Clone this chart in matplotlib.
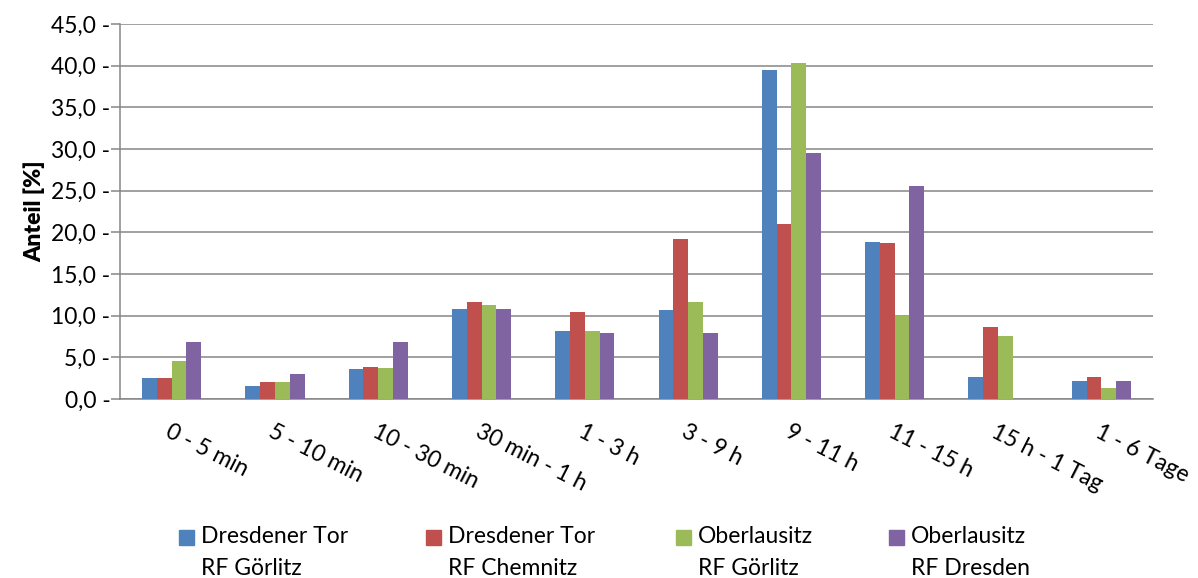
import matplotlib
matplotlib.use("Agg")
import matplotlib.pyplot as plt
from matplotlib.patches import Rectangle
import numpy as np

plt.rcParams['font.family'] = ['Lato', 'DejaVu Sans']

categories = ["0 - 5 min", "5 - 10 min", "10 - 30 min", "30 min - 1 h", "1 - 3 h",
              "3 - 9 h", "9 - 11 h", "11 - 15 h", "15 h - 1 Tag", "1 - 6 Tage"]

series_labels = ["Dresdener Tor\nRF Görlitz", "Dresdener Tor\nRF Chemnitz",
                 "Oberlausitz\nRF Görlitz", "Oberlausitz\nRF Dresden"]

dresdener_tor_goerlitz = [2.5, 1.5, 3.6, 10.8, 8.1, 10.7, 39.5, 18.8, 2.6, 2.1]
dresdener_tor_chemnitz = [2.5, 2.0, 3.8, 11.6, 10.4, 19.2, 21.0, 18.7, 8.6, 2.6]
oberlausitz_goerlitz = [4.5, 2.0, 3.7, 11.3, 8.1, 11.6, 40.3, 10.0, 7.5, 1.3]
oberlausitz_dresden = [6.8, 3.0, 6.8, 10.8, 7.9, 7.9, 29.5, 25.5, 0.0, 2.1]

y_ticks = [0, 5, 10, 15, 20, 25, 30, 35, 40, 45]

series = [dresdener_tor_goerlitz, dresdener_tor_chemnitz, oberlausitz_goerlitz, oberlausitz_dresden]
colors = ["#4F81BD", "#C0504D", "#9BBB59", "#8064A2"]
grid_color = "#868686"
fs = 16.5

fig = plt.figure(figsize=(11.98, 5.78), dpi=100)
ax = fig.add_axes([0.1002, 0.3097, 0.8622, 0.6488])

x = np.arange(len(categories))
w = 0.143
for i, (vals, c) in enumerate(zip(series, colors)):
    ax.bar(x + (i - 1.5) * w, vals, width=w, color=c, zorder=3, linewidth=0)

ax.set_xlim(-0.5, len(categories) - 0.5)
ax.set_ylim(0, 45)

ax.set_yticks(y_ticks)
ax.set_yticklabels([f"{v:.1f}".replace(".", ",") + " -" for v in y_ticks], fontsize=fs)
ax.tick_params(axis='y', direction='out', length=6.5, width=1.1, color=grid_color, pad=0.5)
ax.yaxis.grid(True, color=grid_color, linewidth=1.1, zorder=0)
ax.set_axisbelow(True)

ax.set_xticks(x)
ax.set_xticklabels(categories, fontsize=fs, rotation=-27, ha='left', va='top',
                   rotation_mode='anchor')
ax.tick_params(axis='x', length=0, pad=16)

for side in ['top', 'right']:
    ax.spines[side].set_visible(False)
for side in ['left', 'bottom']:
    ax.spines[side].set_color(grid_color)
    ax.spines[side].set_linewidth(1.1)

ax.set_ylabel("Anteil [%]", fontsize=fs, fontweight='heavy', labelpad=4)

# Legend row below the category labels
W, H = 1198, 578
square_x = [179, 426, 676, 889]
for lx, lab, c in zip(square_x, series_labels, colors):
    fig.patches.append(Rectangle((lx / W, 1 - 545 / H), 15 / W, 15 / H,
                                 transform=fig.transFigure, color=c))
    fig.text((lx + 22) / W, 1 - 526 / H, lab, fontsize=fs, ha='left', va='top',
             linespacing=1.65)

fig.savefig("out.png", dpi=100)
